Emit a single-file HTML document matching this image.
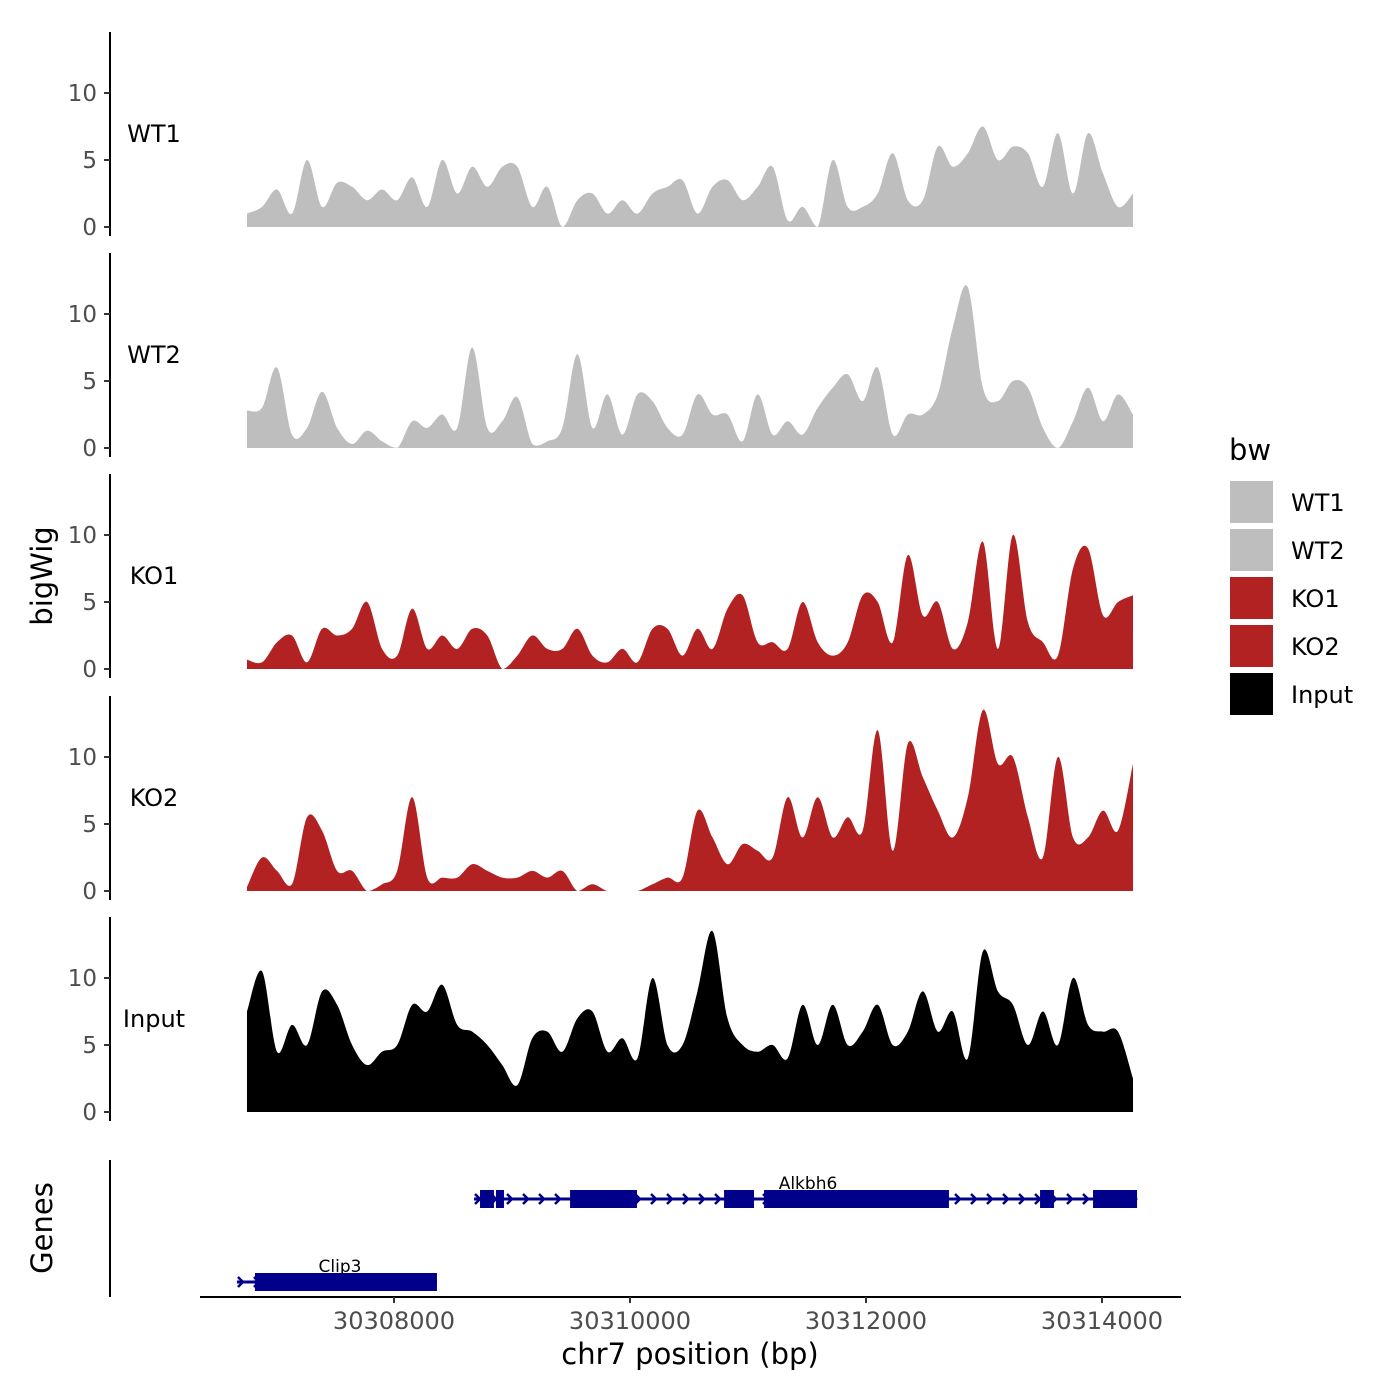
<!DOCTYPE html>
<html><head><meta charset="utf-8"><style>
body{margin:0;background:#fff}
svg{display:block;font-family:"DejaVu Sans","Liberation Sans",sans-serif}
</style></head><body>
<svg id="chart" width="1400" height="1400" viewBox="0 0 1400 1400">
<rect width="1400" height="1400" fill="#fff"/>
<g id="tracks"></g>
<g id="genes"></g>
<g id="axes"></g>
<text x="52" y="576" font-size="29" text-anchor="middle" transform="rotate(-90 52 576)">bigWig</text>
<text x="52" y="1228" font-size="29" text-anchor="middle" transform="rotate(-90 52 1228)">Genes</text>
<text x="690" y="1364" font-size="29" text-anchor="middle">chr7 position (bp)</text>
<g>
<text x="1229" y="460" font-size="29">bw</text>
</g>
<g id="legend"></g>
</svg>
<script>
const NS="http://www.w3.org/2000/svg";
const trackNames=["WT1","WT2","KO1","KO2","Input"];
const trackColors=["#bebebe","#bebebe","#b22222","#b22222","#000000"];
const wt1=[1,1.5,2.8,1,5,1.5,3.3,3,2,2.8,2,3.7,1.5,5,2.5,4.5,3,4.5,4.5,1.5,3,0,2,2.5,1,2,1,2.5,3,3.5,1,3,3.5,2,3,4.5,0.5,1.5,0,5,1.5,1.5,2.5,5.5,2,2,6,4.5,5.5,7.5,5,6,5.5,3,7,2.5,7,4,1.5,2.5];
const wt2=[2.8,3,6,1,1.5,4.2,1.5,0.3,1.3,0.5,0,2,1.5,2.5,1.5,7.5,1.5,2,3.8,0.3,0.5,1.5,7,1.5,4,1,4,3.5,1.5,1,4,2.5,2.5,0.5,4,1,2,1,3,4.5,5.5,3.5,6,1,2.5,2.5,4,9,12,4.5,3.5,5,4.5,1.5,0,2,4.5,2,4,2.5];
const ko1=[0.7,0.5,2,2.5,0.5,3,2.5,3,5,1.5,1,4.5,1.5,2.5,1.5,3,2.5,0,1,2.5,1.5,1.5,3,1,0.5,1.5,0.5,3,3,1,3,1.5,4.5,5.5,2,2,1.5,5,2,1,2,5.5,5,2,8.5,4,5,1.5,3.5,9.5,1.5,10,3.5,2,1,7.5,9,4,5,5.5];
const ko2=[0.3,2.5,1.5,0.5,5.5,4.5,1.5,1.5,0,0.5,1.5,7,1,1,1,2,1.5,1,1,1.5,1,1.5,0,0.5,0,0,0,0.5,1,1,6,4,2,3.5,3,2.5,7,4,7,4,5.5,4.5,12,3,11,8.5,6,4,7,13.5,9.5,10,5.5,2.5,10,4,4,6,4.5,9.5];
const input=[7.5,10.5,4.5,6.5,5,9,8,5,3.5,4.5,5,8,7.5,9.5,6.5,6,5,3.5,2,5.5,6,4.5,7,7.5,4.5,5.5,4,10,5,5,9,13.5,7,5,4.5,5,4,8,5,8,5,6,8,5,6,9,6,7.5,4,12,9,8,5,7.5,5,10,6.5,6,6,2.5];
const yTicks=[0,5,10];
const xTicks=[30308000,30310000,30312000,30314000];
const dataStart=30306754, dataEnd=30314263;
const geneNames=["Alkbh6","Clip3"];
const geneStarts=[30308678,30306669];
const geneEnds=[30314297,30308364];
const exonGene=[0,0,0,0,0,0,0,1];
const exonStarts=[30308729,30308864,30309492,30310797,30311136,30313475,30313924,30306822];
const exonEnds=[30308847,30308932,30310059,30311051,30312703,30313593,30314297,30308364];

const series=[wt1,wt2,ko1,ko2,input];
const xScale=bp=>394+(bp-30308000)*0.118;
const zeroY=[227,448,669,891,1112];
const yScale=(i,v)=>zeroY[i]-v*13.4;
function mk(tag,attrs,parent){const e=document.createElementNS(NS,tag);for(const k in attrs)e.setAttribute(k,attrs[k]);parent.appendChild(e);return e;}
const tracks=document.getElementById('tracks');
const axes=document.getElementById('axes');
series.forEach((vals,i)=>{
  const n=vals.length;
  const pts=vals.map((v,j)=>[xScale(dataStart+(dataEnd-dataStart)*j/(n-1)),Math.min(zeroY[i],yScale(i,v))]);
  let d=`M${pts[0][0]},${zeroY[i]} L${pts[0][0]},${pts[0][1]}`;
  for(let j=0;j<n-1;j++){
    const p0=pts[Math.max(0,j-1)],p1=pts[j],p2=pts[j+1],p3=pts[Math.min(n-1,j+2)];
    const c1=[p1[0]+(p2[0]-p0[0])/6,Math.min(zeroY[i],p1[1]+(p2[1]-p0[1])/6)];
    const c2=[p2[0]-(p3[0]-p1[0])/6,Math.min(zeroY[i],p2[1]-(p3[1]-p1[1])/6)];
    d+=` C${c1[0].toFixed(1)},${c1[1].toFixed(1)} ${c2[0].toFixed(1)},${c2[1].toFixed(1)} ${p2[0].toFixed(1)},${p2[1].toFixed(1)}`;
  }
  d+=` L${pts[n-1][0]},${zeroY[i]} Z`;
  const p=mk('path',{d:d,fill:trackColors[i]},tracks);
  
  
  const top=zeroY[i]-195, bot=zeroY[i]+9;
  const ax=mk('line',{x1:110,x2:110,y1:top,y2:bot,stroke:'#000','stroke-width':2},axes);
  
  
  yTicks.forEach(t=>{
    const y=yScale(i,t);
    const tl=mk('line',{x1:104,x2:110,y1:y,y2:y,stroke:'#333','stroke-width':2},axes);
    
    
    const tx=mk('text',{x:97,y:y+8,'font-size':23,fill:'#4d4d4d','text-anchor':'end'},axes);
    tx.textContent=t;
    
    
  });
  const lb=mk('text',{x:154,y:zeroY[i]-85,'font-size':24,'text-anchor':'middle'},axes);
  lb.textContent=trackNames[i];
  
  
});
const genes=document.getElementById('genes');
const gy=[1199,1282];
geneNames.forEach((g,i)=>{
  const x1=xScale(geneStarts[i]),x2=xScale(geneEnds[i]);
  const l=mk('line',{x1:x1,x2:x2,y1:gy[i],y2:gy[i],stroke:'#00008b','stroke-width':3},genes);
  
  
  for(let x=x1+4;x<x2;x+=16){
    const a=mk('path',{d:`M${x-3},${gy[i]-5} L${x+2},${gy[i]} L${x-3},${gy[i]+5}`,stroke:'#00008b','stroke-width':2.5,fill:'none'},genes);
    
    
  }
  const t=mk('text',{x:(i==0?808:340),y:gy[i]-10,'font-size':17,'text-anchor':'middle'},genes);
  t.textContent=g;
  
  
});
exonStarts.forEach((s,k)=>{
  const x1=xScale(s),x2=xScale(exonEnds[k]),y=gy[exonGene[k]];
  const r=mk('rect',{x:x1,y:y-9,width:x2-x1,height:18,fill:'#00008b'},genes);
  
  
});
const ga=mk('line',{x1:110,x2:110,y1:1160,y2:1297,stroke:'#000','stroke-width':2},axes);


const xa=mk('line',{x1:200,x2:1181,y1:1297,y2:1297,stroke:'#000','stroke-width':2},axes);


xTicks.forEach(t=>{
  const x=xScale(t);
  const tl=mk('line',{x1:x,x2:x,y1:1297,y2:1303,stroke:'#333','stroke-width':2},axes);
  
  
  const tx=mk('text',{x:x,y:1329,'font-size':24,fill:'#4d4d4d','text-anchor':'middle'},axes);
  tx.textContent=t;
  
  
});
const lg=document.getElementById('legend');
trackNames.forEach((n,i)=>{
  const y=481+i*48;
  const r=mk('rect',{x:1230,y:y,width:43,height:42,fill:trackColors[i]},lg);
  
  
  const t=mk('text',{x:1291,y:y+30,'font-size':24},lg);
  t.textContent=n;
  
  
});
</script>
</body></html>
